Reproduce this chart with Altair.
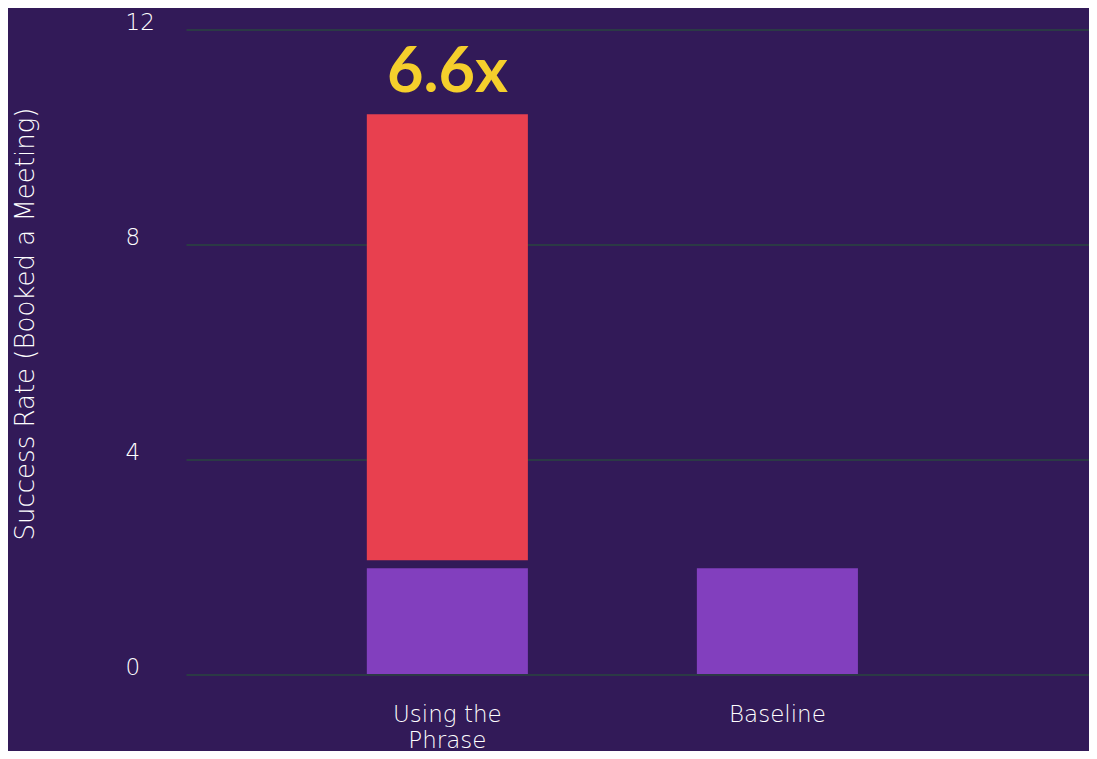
import altair as alt
import pandas as pd

categories = ["Using the Phrase", "Baseline"]
base_values = [1.97, 1.97]
phrase_category = ["Using the Phrase"]
phrase_start = [2.12]
phrase_end = [10.42]
multiplier_label = ["6.6x"]
y_ticks = [0, 4, 8, 12]

base_df = pd.DataFrame({"category": categories, "value": base_values})
phrase_df = pd.DataFrame({"category": phrase_category, "start": phrase_start,
                          "end": phrase_end, "label": multiplier_label})

BG = "#321a58"
PURPLE = "#823fbe"
RED = "#e8404f"
YELLOW = "#f5cf2c"
TEXT = "#ffffff"
GRID = "#2b3a45"
FONT = "DejaVu Sans"

x_enc = alt.X("category:N", sort=categories, title=None,
              scale=alt.Scale(paddingInner=0.512, paddingOuter=0.624, align=0.439),
              axis=alt.Axis(labelAngle=0, domain=False, ticks=False, tickSize=0,
                            labelColor=TEXT, labelFontSize=23, labelFont=FONT,
                            labelFontWeight=300,
                            labelBaseline="top", labelPadding=29, labelLineHeight=26,
                            labelExpr="datum.value == 'Using the Phrase' ? ['Using the', 'Phrase'] : datum.label"))

y_scale = alt.Scale(domain=[0, 12], nice=False)

base = alt.Chart(base_df).mark_bar(color=PURPLE).encode(
    x=x_enc,
    y=alt.Y("value:Q", scale=y_scale, title="Success Rate (Booked a Meeting)",
            axis=alt.Axis(values=y_ticks, format="d", domain=False, ticks=False, tickSize=0,
                          grid=True, gridColor=GRID, gridWidth=2,
                          labelColor=TEXT, labelFontSize=23, labelFont=FONT,
                          labelFontWeight=300,
                          labelAlign="left", labelPadding=61, labelOffset=-7,
                          titleColor=TEXT, titleFontSize=26, titleFont=FONT,
                          titleFontWeight=300,
                          titleX=-161, titleY=294, titleAngle=270,
                          titleAlign="center", titleBaseline="middle")),
)

red = alt.Chart(phrase_df).mark_bar(color=RED).encode(
    x=alt.X("category:N", sort=categories),
    y=alt.Y("start:Q", scale=y_scale),
    y2="end:Q",
)

txt = alt.Chart(phrase_df).mark_text(
    color=YELLOW, font="Lato", fontWeight="bold", fontSize=63,
    baseline="alphabetic", dy=-22,
).encode(
    x=alt.X("category:N", sort=categories),
    y=alt.Y("end:Q", scale=y_scale),
    text="label:N",
)

chart = alt.layer(base, red, txt).properties(
    width=903, height=644.5,
    background=BG,
    padding={"left": 178, "top": 21.5, "right": 0, "bottom": 77},
    autosize=alt.AutoSizeParams(type="none"),
).configure_view(stroke=None)

chart.save("out.html", embed_options={"renderer": "svg", "actions": False})
